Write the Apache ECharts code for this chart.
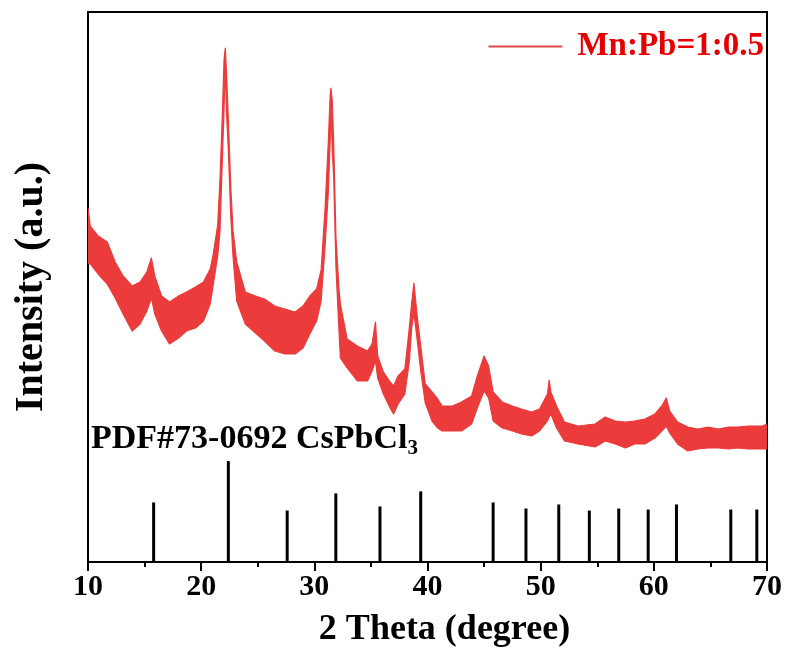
<!DOCTYPE html>
<html>
<head>
<meta charset="utf-8">
<script src="https://cdn.jsdelivr.net/npm/echarts@6/dist/echarts.min.js"></script>
<style>
  html, body { margin: 0; padding: 0; background: #fff; }
  #chart { width: 790px; height: 662px; }
</style>
</head>
<body>
<div id="chart"></div>
<script>
// XRD pattern of the Mn:Pb = 1:0.5 sample, given as the upper and lower
// edges of the noisy trace at each 2θ position (arbitrary counts).
const theta = [
  10.0, 10.2, 10.9, 11.7, 12.4, 13.1, 13.9, 14.6, 15.2, 15.6, 15.9, 16.5, 17.2, 18.0, 18.7,
  19.5, 20.2, 20.8, 21.05, 21.46, 21.66, 21.87, 22.02, 22.13, 22.25, 22.40, 22.61, 22.81, 23.14, 23.9,
  24.8, 25.6, 26.5, 27.4, 28.3, 29.0, 29.6, 30.2, 30.6, 30.94, 31.23, 31.4, 31.47, 31.58, 31.71,
  31.91, 32.18, 32.3, 32.9, 33.8, 34.7, 35.1, 35.4, 35.6, 36.1, 36.7, 37.0, 37.4, 38.0, 38.4,
  38.6, 38.8, 39.1, 39.4, 39.8, 40.4, 40.9, 41.3, 42.2, 43.0, 43.9, 44.4, 45.0, 45.4, 45.8,
  46.6, 47.5, 48.3, 49.2, 49.9, 50.6, 50.75, 50.9, 51.4, 52.1, 53.3, 54.8, 55.7, 56.6, 57.5, 58.3,
  59.2, 60.1, 60.7, 61.1, 61.4, 62.1, 63.0, 63.9, 64.8, 65.7, 66.6, 67.4, 68.3, 69.6, 70.0
];
const upperEnv = [
  708, 672, 652, 640, 600, 572, 552, 560, 580, 608, 572, 532, 520, 532, 540,
  550, 560, 586, 614, 674, 764, 894, 1004, 1028, 974, 884, 754, 664, 600, 540,
  532, 526, 512, 506, 500, 512, 532, 546, 584, 704, 838, 934, 948, 924, 838,
  650, 546, 516, 446, 432, 422, 436, 480, 412, 380, 360, 352, 372, 386, 470,
  518, 558, 490, 432, 356, 340, 326, 312, 312, 320, 332, 372, 412, 392, 340,
  320, 312, 306, 300, 306, 336, 364, 340, 312, 280, 272, 276, 290, 282, 280, 282,
  286, 296, 312, 328, 302, 280, 270, 266, 270, 266, 270, 270, 272, 272, 276
];
const lowerEnv = [
  598, 596, 576, 556, 528, 496, 462, 476, 502, 528, 496, 462, 436, 448, 462,
  468, 482, 516, 552, 612, 660, 804, 904, 994, 894, 824, 694, 612, 522, 476,
  458, 442, 422, 416, 416, 428, 456, 482, 522, 628, 738, 844, 914, 824, 770,
  590, 462, 408, 388, 362, 362, 382, 402, 368, 336, 308, 296, 316, 336, 402,
  468, 498, 442, 382, 318, 282, 268, 262, 262, 262, 276, 308, 342, 328, 282,
  268, 262, 256, 252, 262, 282, 290, 296, 268, 242, 236, 230, 242, 236, 228, 236,
  236, 248, 262, 272, 258, 236, 222, 226, 228, 228, 226, 228, 226, 226, 226
];

// Standard card PDF#73-0692 (CsPbCl3): line positions and relative intensities (%)
const refTheta = [15.8, 22.4, 27.6, 31.9, 35.8, 39.4, 45.8, 48.7, 51.6, 54.3, 56.9, 59.5, 62.0, 66.8, 69.1];
const refIntensity = [59, 100, 51, 68, 55, 70, 59, 53, 57, 51, 53, 52, 57, 52, 52];

// 2θ axis range and tick step
const xMin = 10, xMax = 70, xStep = 10;

const sampleName = 'Mn:Pb=1:0.5';
const cardLabel = 'PDF#73-0692 CsPbCl';
const cardSub = '3';

const SERIF = "'Times New Roman', 'Liberation Serif', serif";
const TRACE = '#ec3b3b';

const refLines = refTheta.map((t, i) => [t, refIntensity[i]]);
// one data item per 2θ sample; the band is drawn as a single closed outline
const bandData = theta.map((t, i) => [t, lowerEnv[i], upperEnv[i]]);

const chart = echarts.init(document.getElementById('chart'), null, { renderer: 'canvas' });
chart.setOption({
  backgroundColor: '#fff',
  animation: false,
  title: {
    text: '{a|' + cardLabel + '}{s|' + cardSub + '}',
    left: 91,
    top: 419,
    padding: 0,
    textStyle: {
      rich: {
        a: { fontFamily: SERIF, fontWeight: 'bold', fontSize: 34, color: '#000', lineHeight: 40 },
        s: { fontFamily: SERIF, fontWeight: 'bold', fontSize: 21, color: '#000', lineHeight: 20, verticalAlign: 'bottom' }
      }
    }
  },
  legend: {
    data: [{ name: sampleName, icon: 'rect', itemStyle: { color: '#dc4a4a' } }],
    right: 26,
    top: 30,
    itemWidth: 74,
    itemHeight: 2,
    padding: 0,
    textStyle: {
      color: '#e60000',
      fontFamily: SERIF,
      fontWeight: 'bold',
      fontSize: 33,
      padding: [0, 0, 0, 10]
    }
  },
  grid: {
    left: 88, right: 23, top: 12, bottom: 100,
    show: true, borderColor: '#000', borderWidth: 2
  },
  xAxis: {
    type: 'value',
    min: xMin, max: xMax, interval: xStep,
    name: '2 Theta (degree)',
    nameLocation: 'middle',
    nameGap: 50,
    nameTextStyle: { fontFamily: SERIF, fontWeight: 'bold', fontSize: 36, color: '#000', padding: [0, 0, 0, 34] },
    axisLine: { lineStyle: { color: '#000', width: 2 } },
    axisTick: { show: true, length: 9, lineStyle: { color: '#000', width: 2 } },
    minorTick: { show: true, splitNumber: 2, length: 5, lineStyle: { color: '#000', width: 2 } },
    axisLabel: { fontFamily: SERIF, fontWeight: 'bold', fontSize: 30, color: '#000', margin: 10 },
    splitLine: { show: false }
  },
  yAxis: [
    {
      type: 'value', min: 0, max: 1100,
      name: 'Intensity (a.u.)',
      nameLocation: 'middle',
      nameGap: 36,
      nameTextStyle: { fontFamily: SERIF, fontWeight: 'bold', fontSize: 40, color: '#000' },
      axisLine: { show: true, lineStyle: { color: '#000', width: 2 } },
      axisTick: { show: false },
      axisLabel: { show: false },
      splitLine: { show: false }
    },
    { type: 'value', min: 0, max: 545, show: false }
  ],
  series: [
    {
      name: sampleName,
      type: 'custom',
      data: bandData,
      encode: { x: 0, y: [1, 2] },
      color: TRACE,
      clip: true,
      renderItem: function (params, api) {
        // draw the whole band once, on the first item
        if (params.dataIndex !== 0) return null;
        const pts = [];
        for (let i = 0; i < bandData.length; i++) {
          pts.push(api.coord([bandData[i][0], bandData[i][2]]));
        }
        for (let i = bandData.length - 1; i >= 0; i--) {
          pts.push(api.coord([bandData[i][0], bandData[i][1]]));
        }
        return {
          type: 'polygon',
          shape: { points: pts },
          style: { fill: TRACE, stroke: TRACE, lineWidth: 1.2, lineJoin: 'round' }
        };
      },
      silent: true
    },
    {
      name: 'card',
      type: 'custom',
      yAxisIndex: 1,
      data: refLines,
      renderItem: function (params, api) {
        const p0 = api.coord([api.value(0), 0]);
        const p1 = api.coord([api.value(0), api.value(1)]);
        return {
          type: 'line',
          shape: { x1: p0[0], y1: p0[1], x2: p1[0], y2: p1[1] },
          style: { stroke: '#000', lineWidth: 3 }
        };
      },
      silent: true
    }
  ]
});
</script>
</body>
</html>
